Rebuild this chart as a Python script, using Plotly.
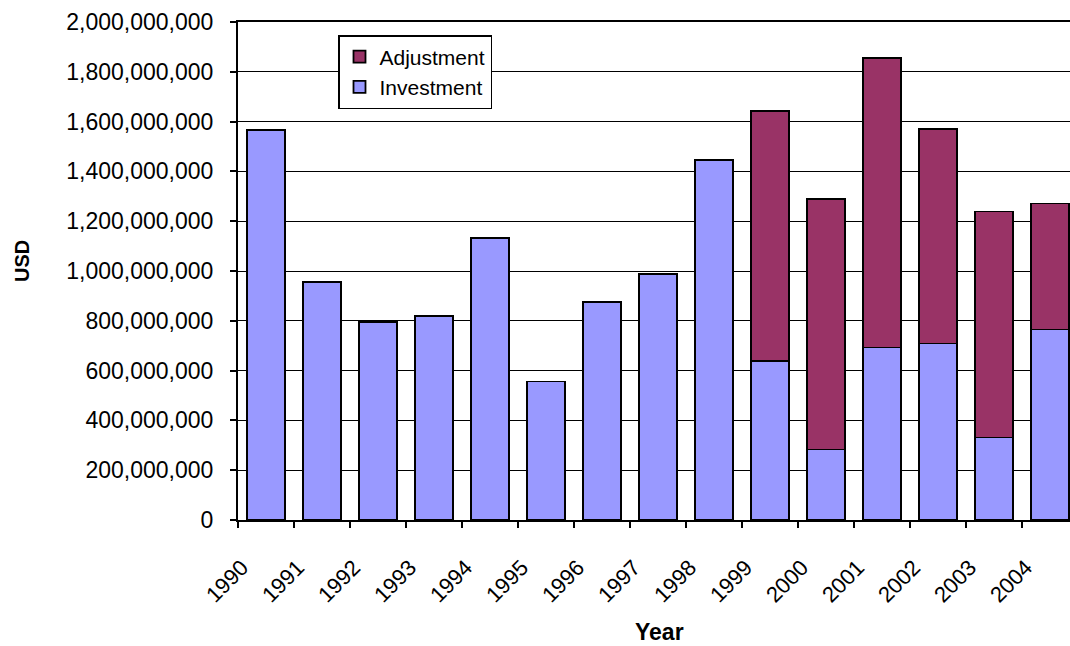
import plotly.graph_objects as go

# Annual flows in USD, split into the investment base and the adjustment on top
years = [str(y) for y in range(1990, 2005)]
investment = [1565e6, 956e6, 796e6, 818e6, 1133e6, 556e6, 876e6, 989e6, 1447e6,
              637e6, 283e6, 693e6, 709e6, 331e6, 765e6]
adjustment = [0, 0, 0, 0, 0, 0, 0, 0, 0,
              1005e6, 1005e6, 1164e6, 861e6, 908e6, 506e6]

y_ticks = list(range(0, 2_000_000_001, 200_000_000))
y_tick_text = [f"{v:,}" for v in y_ticks]

FONT = "Liberation Sans, Arial, sans-serif"
INVEST_COLOR = "#9999FF"
ADJUST_COLOR = "#993366"

fig = go.Figure()
fig.add_trace(go.Bar(
    x=years, y=investment, name="Investment",
    marker=dict(color=INVEST_COLOR, line=dict(color="black", width=1.8)),
))
fig.add_trace(go.Bar(
    x=years, y=adjustment, name="Adjustment",
    marker=dict(color=ADJUST_COLOR, line=dict(color="black", width=1.8)),
))

fig.update_layout(
    width=1070, height=646,
    margin=dict(l=238, r=0, t=22, b=126),
    paper_bgcolor="white", plot_bgcolor="white",
    barmode="stack", bargap=0.33,
    font=dict(family=FONT, color="black"),
    showlegend=True,
    legend=dict(
        x=(338 - 238) / 832, y=1 - (35 - 22) / 498,
        xanchor="left", yanchor="top",
        bgcolor="white", bordercolor="black", borderwidth=1.5,
        font=dict(size=21, family=FONT, color="black"),
        traceorder="reversed", itemwidth=30,
    ),
)

fig.update_xaxes(
    type="category",
    range=[-0.5, 14.357],
    showline=True, linecolor="black", linewidth=2, mirror=True,
    ticks="outside", tickson="boundaries", ticklen=6, tickwidth=1.5, tickcolor="black",
    tickangle=-45, tickfont=dict(size=22, family=FONT, color="black"),
    ticklabelshift=-24, ticklabelstandoff=24,
    showgrid=False,
)
fig.update_yaxes(
    range=[0, 2_000_000_000],
    tickvals=y_ticks, ticktext=y_tick_text,
    showline=True, linecolor="black", linewidth=2,
    ticks="outside", ticklen=6, tickwidth=1.5, tickcolor="black",
    tickfont=dict(size=23, family=FONT, color="black"),
    ticklabelstandoff=12,
    showgrid=True, gridcolor="black", gridwidth=1,
    zeroline=False,
)

# Axis titles
fig.add_annotation(
    text="<b>Year</b>", xref="paper", yref="paper",
    x=(659 - 238) / 832, y=-(632 - 520) / 498,
    xanchor="center", yanchor="middle", showarrow=False,
    font=dict(size=23, family=FONT, color="black"),
)
fig.add_annotation(
    text="<b>USD</b>", xref="paper", yref="paper",
    x=-(238 - 22) / 832, y=1 - (261 - 22) / 498,
    xanchor="center", yanchor="middle", showarrow=False, textangle=-90,
    font=dict(size=20, family=FONT, color="black"),
)

fig.write_html("out.html")
